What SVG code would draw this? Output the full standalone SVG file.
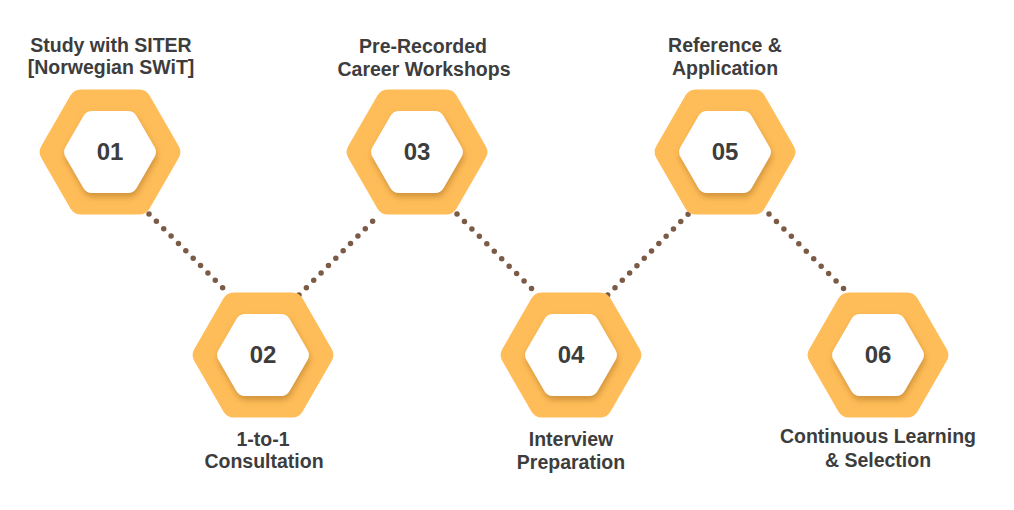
<svg xmlns="http://www.w3.org/2000/svg" xmlns:xlink="http://www.w3.org/1999/xlink" width="1014" height="510" viewBox="0 0 1014 510">
<style>
.hex-o{fill:#FFBD59;stroke:#FFBD59;stroke-width:24;stroke-linejoin:round}
.hex-i{fill:#FFFFFF;stroke:#FFFFFF;stroke-width:20;stroke-linejoin:round}
.num{font-family:"Liberation Sans",Arial,sans-serif;font-weight:bold;font-size:24px;fill:#3d3d3d;text-anchor:middle}
.lbl{font-family:"Liberation Sans",Arial,sans-serif;font-weight:bold;font-size:19.5px;fill:#3d3d3d;text-anchor:middle}
.dots{fill:none;stroke:#7b5b46;stroke-width:5.5;stroke-linecap:round}
</style>
<defs>
<polygon id="outer" points="-58.3,0 -29.2,-50.5 29.2,-50.5 58.3,0 29.2,50.5 -29.2,50.5"/>
<polygon id="inner" points="-35.8,0 -17.9,-31 17.9,-31 35.8,0 17.9,31 -17.9,31"/>
<filter id="sh" x="-30%" y="-30%" width="160%" height="170%">
<feDropShadow dx="1" dy="4" stdDeviation="3" flood-color="#a86e1c" flood-opacity="0.55"/>
</filter>
</defs>
<rect width="1014" height="510" fill="#FFFFFF"/>
<g id="connectors">
<line class="dots" x1="149" y1="214" x2="230" y2="295" stroke-dasharray="0 10.414"/>
<line class="dots" x1="299" y1="295" x2="380" y2="214" stroke-dasharray="0 10.414"/>
<line class="dots" x1="457" y1="214" x2="539" y2="296" stroke-dasharray="0 10.54"/>
<line class="dots" x1="607.7" y1="295" x2="688.3" y2="214" stroke-dasharray="0 10.36"/>
<line class="dots" x1="769" y1="214" x2="851" y2="296" stroke-dasharray="0 10.54"/>
</g>
<g id="node-01">
<use xlink:href="#outer" class="hex-o" x="110" y="152"/>
<use xlink:href="#inner" class="hex-i" x="110" y="152" filter="url(#sh)"/>
<text class="num" x="110" y="160">01</text>
<text class="lbl" x="111" y="52">Study with SITER</text>
<text class="lbl" x="111" y="74">[Norwegian SWiT]</text>
</g>
<g id="node-02">
<use xlink:href="#outer" class="hex-o" x="263" y="355"/>
<use xlink:href="#inner" class="hex-i" x="263" y="355" filter="url(#sh)"/>
<text class="num" x="263" y="363">02</text>
<text class="lbl" x="263" y="446">1-to-1</text>
<text class="lbl" x="264" y="468">Consultation</text>
</g>
<g id="node-03">
<use xlink:href="#outer" class="hex-o" x="417" y="152"/>
<use xlink:href="#inner" class="hex-i" x="417" y="152" filter="url(#sh)"/>
<text class="num" x="417" y="160">03</text>
<text class="lbl" x="423" y="53">Pre-Recorded</text>
<text class="lbl" x="424" y="76">Career Workshops</text>
</g>
<g id="node-04">
<use xlink:href="#outer" class="hex-o" x="571" y="355"/>
<use xlink:href="#inner" class="hex-i" x="571" y="355" filter="url(#sh)"/>
<text class="num" x="571" y="363">04</text>
<text class="lbl" x="571" y="446">Interview</text>
<text class="lbl" x="571" y="469">Preparation</text>
</g>
<g id="node-05">
<use xlink:href="#outer" class="hex-o" x="725" y="152"/>
<use xlink:href="#inner" class="hex-i" x="725" y="152" filter="url(#sh)"/>
<text class="num" x="725" y="160">05</text>
<text class="lbl" x="725" y="52">Reference &amp;</text>
<text class="lbl" x="725" y="75">Application</text>
</g>
<g id="node-06">
<use xlink:href="#outer" class="hex-o" x="878" y="355"/>
<use xlink:href="#inner" class="hex-i" x="878" y="355" filter="url(#sh)"/>
<text class="num" x="878" y="363">06</text>
<text class="lbl" x="878" y="443">Continuous Learning</text>
<text class="lbl" x="878" y="467">&amp; Selection</text>
</g>
</svg>
